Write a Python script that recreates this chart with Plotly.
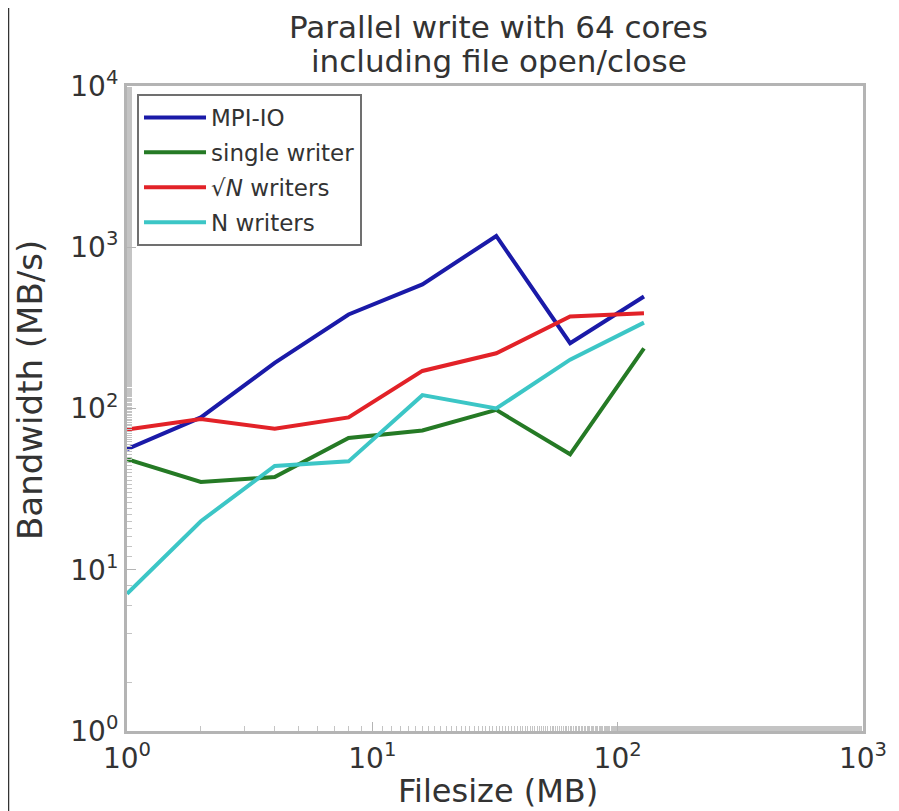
import plotly.graph_objects as go

filesize = [1, 2, 4, 8, 16, 32, 64, 128]
mpiio = [56, 88, 192, 383, 588, 1175, 254, 495]
single_writer = [48.5, 35, 37.6, 65.6, 73, 98, 52, 236]
sqrtn_writers = [74, 86, 75, 88, 171, 220, 372, 390]
n_writers = [7.1, 20, 44, 47, 121, 100, 201, 341]

series_names = ["MPI-IO", "single writer", "√<i>N</i> writers", "N writers"]
series_values = [mpiio, single_writer, sqrtn_writers, n_writers]
colors = ["#1a1aa8", "#257a25", "#e22228", "#3cc6c6"]

title_lines = ["Parallel write with 64 cores", "including file open/close"]
x_title = "Filesize (MB)"
y_title = "Bandwidth (MB/s)"

x_tickvals = [1, 10, 100, 1000]
x_ticktext = ["10<sup>0</sup>", "10<sup>1</sup>", "10<sup>2</sup>", "10<sup>3</sup>"]
y_tickvals = [1, 10, 100, 1000, 10000]
y_ticktext = ["10<sup>0</sup>", "10<sup>1</sup>", "10<sup>2</sup>", "10<sup>3</sup>", "10<sup>4</sup>"]

fig = go.Figure()
for i, (name, vals, col) in enumerate(zip(series_names, series_values, colors)):
    fig.add_trace(go.Scatter(x=filesize, y=vals, mode="lines", name=name,
                             legendgroup=f"g{i}",
                             line=dict(color=col, width=4)))

font_color = "#333333"
axis_common = dict(
    type="log", showgrid=False, zeroline=False,
    showline=True, linecolor="#b4b4b4", linewidth=3, mirror=True,
    ticks="inside", ticklen=9, tickcolor="#b4b4b4", tickwidth=1,
    minor=dict(ticks="inside", ticklen=5, tickcolor="#c4c4c4", showgrid=False),
    tickfont=dict(size=28, color=font_color),
)

# figure is drawn with an 8px page offset; margins chosen so plot sits at 127..863 x 86..731 on screen
ML, MT, PW, PH = 119, 78, 736, 645

fig.update_layout(
    width=899, height=811,
    paper_bgcolor="white", plot_bgcolor="white",
    font=dict(family="DejaVu Sans", color=font_color),
    margin=dict(l=ML, r=899 - ML - PW, t=MT, b=811 - MT - PH),
    xaxis=dict(range=[0, 3], tickvals=x_tickvals, ticktext=x_ticktext,
               **axis_common),
    yaxis=dict(range=[0, 4], tickvals=y_tickvals, ticktext=y_ticktext,
               **axis_common),
    legend=dict(x=0.0136, y=0.9876, xanchor="left", yanchor="top",
                bgcolor="white", bordercolor="#707070", borderwidth=2,
                font=dict(size=23, color=font_color), tracegroupgap=2,
                itemwidth=62),
    showlegend=True,
)

for text, ypix in zip(title_lines, [19, 53]):
    fig.add_annotation(text=text, xref="paper", yref="paper",
                       x=0.505, y=1 + (MT - ypix) / PH, xanchor="center", yanchor="middle",
                       showarrow=False, font=dict(size=31, color=font_color))

fig.add_annotation(text=y_title, xref="paper", yref="paper", textangle=-90,
                   x=(22 - ML) / PW, y=1 - (382 - MT) / PH, xanchor="center", yanchor="middle",
                   showarrow=False, font=dict(size=34, color=font_color))

fig.add_annotation(text=x_title, xref="paper", yref="paper",
                   x=(490 - ML) / PW, y=1 - (783 - MT) / PH, xanchor="center", yanchor="middle",
                   showarrow=False, font=dict(size=32, color=font_color))

fig.add_shape(type="line", xref="paper", yref="paper",
              x0=(0.5 - ML) / PW, x1=(0.5 - ML) / PW, y0=-(811 - MT - PH) / PH, y1=1 + MT / PH,
              line=dict(color="#333333", width=1.5))

fig.write_html("out.html")
